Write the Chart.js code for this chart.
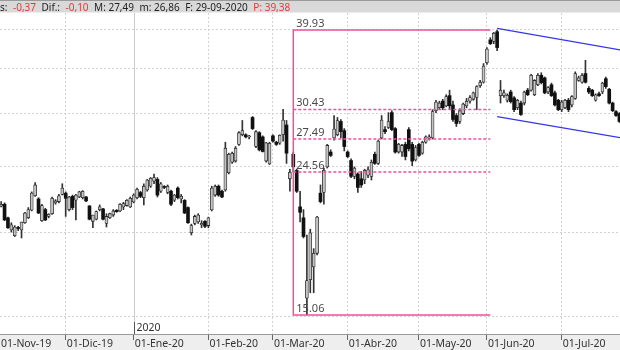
<!DOCTYPE html>
<html>
<head>
<meta charset="utf-8">
<script src="https://cdn.jsdelivr.net/npm/chart.js@4"></script>
<style>
  html, body { margin: 0; padding: 0; background: #fff; }
  #wrap { width: 620px; height: 350px; }
</style>
</head>
<body>
<div id="wrap"><canvas id="chart-price" width="620" height="350"></canvas></div>
<script>
// month tick labels (one per month array below)
const monthLabels = ['01-Nov-19', '01-Dic-19', '01-Ene-20', '01-Feb-20', '01-Mar-20',
    '01-Abr-20', '01-May-20', '01-Jun-20', '01-Jul-20'];

// daily candles [open, high, low, close]
const nov19 = [
    [22.3, 22.4, 21.9, 22.0], [22.1, 22.3, 21.9, 22.2], [21.85, 22.2, 21.8, 22.0],
    [22.0, 22.1, 20.8, 20.85], [21.0, 21.05, 20.25, 20.3], [20.15, 20.65, 20.0, 20.5],
    [19.75, 20.45, 19.7, 20.35], [20.3, 20.4, 20.1, 20.25], [20.15, 20.7, 19.6, 20.7],
    [20.65, 21.4, 20.6, 21.35], [21.0, 21.75, 20.95, 21.6], [21.55, 22.95, 21.5, 22.85],
    [22.65, 23.7, 22.6, 23.5], [22.4, 22.5, 21.3, 21.35], [20.8, 22.0, 20.75, 21.9],
    [21.6, 21.7, 20.8, 20.85], [21.1, 21.3, 21.0, 21.25], [21.3, 22.55, 21.25, 22.45],
    [22.1, 22.35, 22.0, 22.25], [22.2, 22.75, 22.1, 22.65], [22.75, 23.6, 22.7, 23.25],
];
const dec19 = [
    [22.85, 22.95, 21.1, 22.45], [21.6, 22.6, 21.5, 22.55], [22.6, 22.7, 21.6, 21.75],
    [22.3, 22.75, 20.85, 22.7], [22.55, 23.0, 22.5, 22.95], [22.5, 23.05, 22.4, 23.0],
    [22.55, 22.6, 22.2, 22.25], [21.87, 21.9, 20.85, 20.9], [20.75, 21.2, 20.3, 21.2],
    [20.9, 21.5, 20.85, 21.45], [21.6, 21.95, 21.5, 21.8], [21.65, 21.7, 20.85, 20.9],
    [20.6, 21.3, 20.35, 21.1], [21.0, 21.35, 20.95, 21.3], [21.2, 21.6, 21.1, 21.5],
    [21.55, 21.6, 21.4, 21.45], [21.5, 22.05, 21.45, 22.0], [21.8, 22.15, 21.6, 22.05],
    [21.9, 22.35, 21.85, 22.3], [21.8, 22.55, 21.75, 22.45],
];
const jan20 = [
    [22.17, 22.8, 22.1, 22.7], [22.5, 23.25, 22.4, 23.15], [22.9, 23.0, 22.5, 22.6],
    [22.5, 23.6, 21.95, 23.4], [23.1, 23.95, 23.0, 23.9], [23.4, 24.1, 23.3, 24.05],
    [23.8, 24.4, 23.6, 24.1], [23.95, 24.1, 22.55, 22.7], [23.0, 23.7, 22.9, 23.6],
    [23.35, 23.45, 23.2, 23.3], [22.9, 23.5, 22.8, 23.4], [23.0, 23.1, 21.9, 22.0],
    [22.3, 22.75, 22.2, 22.7], [23.25, 23.35, 22.4, 22.5], [22.4, 22.75, 22.1, 22.6],
    [22.3, 22.35, 21.3, 21.35], [21.75, 21.8, 20.6, 20.65], [19.95, 20.55, 19.8, 20.45],
    [20.6, 21.2, 20.5, 21.1], [20.7, 21.3, 20.6, 21.2], [20.5, 20.8, 20.3, 20.6],
    [20.75, 20.8, 20.3, 20.4],
];
const feb20 = [
    [20.45, 21.05, 20.3, 21.0], [21.57, 23.4, 21.5, 23.25], [22.7, 23.5, 22.6, 23.4],
    [23.4, 23.5, 22.6, 22.7], [23.0, 23.1, 22.5, 22.55], [23.1, 27.2, 23.0, 26.65],
    [24.5, 26.2, 24.4, 26.1], [25.4, 26.3, 25.3, 26.2], [25.5, 26.8, 25.4, 26.65],
    [27.0, 28.2, 26.9, 28.1], [27.9, 29.3, 27.8, 28.3], [27.9, 28.0, 27.6, 27.7],
    [27.7, 27.85, 27.5, 27.75], [29.6, 29.7, 28.4, 28.5], [26.8, 28.3, 26.7, 28.2],
    [28.1, 28.2, 26.4, 26.5], [27.7, 27.8, 26.3, 26.35], [25.5, 27.2, 25.4, 27.15],
    [25.25, 27.2, 25.2, 27.1],
];
const mar20 = [
    [27.8, 27.9, 27.2, 27.3], [27.2, 27.3, 26.9, 27.0], [27.1, 27.9, 27.0, 27.85],
    [27.9, 30.45, 27.3, 29.35], [28.85, 29.3, 25.3, 26.2], [24.0, 24.8, 23.0, 24.55],
    [26.1, 26.3, 24.6, 25.0], [24.7, 24.8, 22.9, 23.0], [21.8, 23.0, 20.7, 21.4],
    [21.0, 21.6, 19.6, 19.7], [15.95, 19.8, 15.06, 16.95], [17.0, 20.2, 16.25, 19.95],
    [17.75, 18.9, 16.25, 18.6], [18.6, 21.1, 18.5, 21.05], [22.85, 23.5, 22.1, 22.2],
    [22.9, 24.9, 22.0, 24.7], [25.0, 27.0, 24.9, 26.9], [26.3, 26.5, 25.9, 26.0],
    [27.6, 29.8, 27.4, 28.45], [27.9, 29.6, 27.8, 29.3], [29.2, 29.4, 27.6, 28.2],
    [28.3, 28.5, 26.4, 26.8],
];
const apr20 = [
    [26.3, 26.4, 25.8, 25.9], [25.55, 25.7, 24.1, 24.2], [24.2, 25.0, 24.0, 24.9],
    [24.4, 24.5, 22.9, 23.3], [24.0, 24.6, 23.3, 23.5], [23.9, 24.8, 23.6, 24.7],
    [24.3, 25.0, 24.1, 24.75], [24.2, 25.6, 23.9, 25.4], [26.1, 26.3, 25.2, 25.3],
    [25.3, 27.4, 25.2, 27.3], [27.6, 29.8, 27.5, 29.35], [28.4, 28.7, 28.0, 28.2],
    [28.6, 30.1, 28.5, 29.2], [30.1, 30.3, 28.3, 28.4], [28.5, 28.6, 26.2, 26.3],
    [26.3, 27.1, 26.2, 27.0], [26.3, 27.0, 25.9, 26.9], [27.0, 27.2, 25.6, 25.9],
    [28.4, 28.6, 26.4, 26.6], [27.0, 27.2, 25.1, 25.5], [25.6, 26.9, 25.5, 26.7],
];
const may20 = [
    [27.0, 27.1, 25.9, 26.0], [26.2, 27.3, 26.1, 27.2], [27.2, 27.8, 27.1, 27.7],
    [27.6, 27.9, 27.4, 27.7], [27.6, 30.4, 27.5, 30.2], [30.3, 31.4, 30.1, 31.2],
    [30.6, 31.3, 30.4, 31.1], [31.3, 31.5, 30.4, 30.6], [30.8, 32.0, 30.7, 31.8],
    [31.9, 32.5, 30.5, 30.8], [30.9, 31.3, 29.2, 29.4], [29.8, 30.0, 28.7, 29.0],
    [29.2, 30.5, 29.0, 30.3], [30.0, 31.1, 29.9, 31.0], [30.8, 31.6, 30.6, 31.3],
    [31.3, 31.9, 31.1, 31.7], [31.5, 32.3, 31.4, 32.2], [31.7, 33.0, 30.4, 32.9],
    [33.0, 33.6, 32.8, 33.4], [33.4, 35.6, 33.3, 35.3],
];
const jun20 = [
    [35.7, 37.6, 35.5, 37.4], [38.6, 38.9, 38.0, 38.1], [38.4, 39.6, 38.1, 39.5],
    [39.7, 39.93, 37.2, 37.6], [31.9, 33.6, 31.1, 32.5], [31.9, 32.5, 31.7, 32.2],
    [31.4, 32.1, 31.2, 31.95], [32.3, 32.5, 31.1, 31.25], [31.65, 31.8, 30.2, 30.4],
    [30.6, 31.5, 30.4, 31.4], [31.1, 31.3, 29.8, 29.9], [31.1, 32.4, 30.9, 32.3],
    [32.5, 32.7, 31.9, 32.0], [32.5, 34.3, 32.4, 34.2], [32.0, 33.7, 31.9, 33.6],
    [33.1, 34.4, 33.0, 34.2], [34.2, 34.5, 33.2, 33.35], [33.9, 34.0, 32.1, 32.2],
    [32.3, 32.9, 32.1, 32.8], [33.1, 33.3, 31.8, 31.9], [32.2, 32.4, 30.8, 30.9],
    [31.4, 31.5, 30.3, 30.4],
];
const jul20 = [
    [30.4, 31.4, 30.2, 31.2], [30.6, 31.5, 30.5, 31.4], [31.4, 31.6, 30.2, 30.4],
    [30.9, 31.9, 30.7, 31.8], [31.6, 34.6, 31.5, 34.4], [33.6, 34.1, 33.5, 33.9],
    [33.4, 34.4, 33.3, 34.2], [34.4, 36.0, 33.3, 33.4], [32.7, 32.9, 32.1, 32.3],
    [32.5, 32.6, 31.8, 31.9], [31.4, 32.1, 31.3, 32.0], [32.1, 32.3, 31.8, 31.9],
    [32.3, 33.4, 32.1, 33.3], [33.8, 34.0, 32.7, 32.9], [32.6, 32.7, 31.0, 31.1],
    [31.1, 31.2, 30.2, 30.3], [30.2, 30.3, 29.7, 29.8], [30.0, 30.1, 29.1, 29.2],
];

// fibonacci retracement (prices) and the candle span it covers
const fibHigh = 39.93;
const fibLow = 15.06;
const fibLevels = [30.43, 27.49, 24.56];
const fibSpan = [88, 146];

// downward channel [candle index, price]
const channelUpper = [[148, 40.16], [186, 37.16]];
const channelLower = [[148, 29.68], [186, 27.53]];

const priceGrid = [15, 20, 25, 30, 35, 40];

// status line on top: text, red?
const headerParts = [
    ['s:', false], ['-0,37', true], ['Dif.:', false], ['-0,10', true],
    ['M: 27,49', false], ['m: 26,86', false], ['F: 29-09-2020', false],
    ['P: 39,38', true],
];

const months = [nov19, dec19, jan20, feb20, mar20, apr20, may20, jun20, jul20];
const candles = [].concat(...months);
const monthStart = [];
let count = 0;
months.forEach(m => { monthStart.push(count); count += m.length; });

const xMin = 1.66;
const xMax = 184.17;
const yMin = 14.113;
const yMax = 42.32;

const isUp = candles.map(c => c[3] >= c[0]);
const bodies = candles.map((c, i) => ({x: i, y: [c[0], c[3]]}));
const wicks = candles.map((c, i) => ({x: i, y: [c[2], c[1]]}));

const FONT = '"Noto Sans", "Open Sans", sans-serif';
const PINK = '#f0509a';
const BLUE = '#3535f0';

const frame = {
    id: 'frame',
    beforeDraw(chart) {
        const ctx = chart.ctx;
        const area = chart.chartArea;
        ctx.save();
        ctx.fillStyle = '#fff';
        ctx.fillRect(0, 0, chart.width, chart.height);
        // header band
        ctx.fillStyle = '#d9d9d9';
        ctx.fillRect(0, 0, chart.width, 12.5);
        ctx.fillStyle = '#9a9a9a';
        ctx.fillRect(0, 0, chart.width, 1);
        ctx.font = '10px ' + FONT;
        ctx.textBaseline = 'alphabetic';
        let hx = 0;
        headerParts.forEach(p => {
            ctx.fillStyle = p[1] ? '#e5393b' : '#222';
            ctx.fillText(p[0], hx, 10.5);
            hx += ctx.measureText(p[0]).width + 5.5;
        });
        // axis band
        ctx.fillStyle = '#eeeeee';
        ctx.fillRect(0, area.bottom, chart.width, chart.height - area.bottom);
        ctx.restore();
    },
    beforeDatasetsDraw(chart) {
        const ctx = chart.ctx;
        const area = chart.chartArea;
        const xs = chart.scales.x;
        const x = Math.round(xs.getPixelForValue(monthStart[2])) + 0.5;
        ctx.save();
        ctx.strokeStyle = '#cccccc';
        ctx.lineWidth = 1;
        ctx.beginPath();
        ctx.moveTo(x, area.top);
        ctx.lineTo(x, area.bottom - 12);
        ctx.stroke();
        ctx.strokeStyle = '#555';
        ctx.beginPath();
        ctx.moveTo(x, area.bottom - 12);
        ctx.lineTo(x, area.bottom);
        ctx.stroke();
        ctx.fillStyle = '#333';
        ctx.font = '10.5px ' + FONT;
        ctx.fillText('2020', x + 2, area.bottom - 3);
        ctx.restore();
    },
    afterDatasetsDraw(chart) {
        const ctx = chart.ctx;
        const area = chart.chartArea;
        const xs = chart.scales.x;
        const ys = chart.scales.y;
        ctx.save();
        ctx.beginPath();
        ctx.rect(area.left, area.top, area.width, area.height);
        ctx.clip();

        const x1 = xs.getPixelForValue(fibSpan[0]);
        const x2 = xs.getPixelForValue(fibSpan[1]);
        const yHi = ys.getPixelForValue(fibHigh);
        const yLo = ys.getPixelForValue(fibLow);
        ctx.strokeStyle = PINK;
        ctx.lineWidth = 1.5;
        ctx.beginPath();
        ctx.moveTo(x2, yHi);
        ctx.lineTo(x1, yHi);
        ctx.lineTo(x1, yLo);
        ctx.lineTo(x2, yLo);
        ctx.stroke();
        ctx.setLineDash([3, 2]);
        fibLevels.forEach(v => {
            const y = ys.getPixelForValue(v);
            ctx.beginPath();
            ctx.moveTo(x1, y);
            ctx.lineTo(x2, y);
            ctx.stroke();
        });
        ctx.setLineDash([]);
        ctx.fillStyle = '#4a4a4a';
        ctx.font = '11px ' + FONT;
        [fibHigh, ...fibLevels, fibLow].forEach(v => {
            ctx.fillText(v.toFixed(2), x1 + 3, ys.getPixelForValue(v) - 3);
        });

        ctx.strokeStyle = BLUE;
        ctx.lineWidth = 1.3;
        [channelUpper, channelLower].forEach(line => {
            ctx.beginPath();
            ctx.moveTo(xs.getPixelForValue(line[0][0]), ys.getPixelForValue(line[0][1]));
            ctx.lineTo(xs.getPixelForValue(line[1][0]), ys.getPixelForValue(line[1][1]));
            ctx.stroke();
        });
        ctx.restore();
    }
};

const data = {
    datasets: [{
        label: 'body',
        data: bodies,
        barThickness: 3,
        minBarLength: 1,
        grouped: false,
        borderSkipped: false,
        backgroundColor: ctx => isUp[ctx.dataIndex] ? '#c4c4c4' : '#111',
        borderColor: '#2a2a2a',
        borderWidth: ctx => isUp[ctx.dataIndex] ? 0.8 : 0,
        order: 0
    }, {
        label: 'wick',
        data: wicks,
        barThickness: 1,
        grouped: false,
        backgroundColor: '#333',
        borderWidth: 0,
        order: 1
    }]
};

const config = {
    type: 'bar',
    data: data,
    plugins: [frame],
    options: {
        responsive: false,
        animation: false,
        devicePixelRatio: 1,
        layout: {padding: {top: 13, left: 0, right: 0, bottom: 0}},
        plugins: {legend: {display: false}, tooltip: {enabled: false}},
        scales: {
            x: {
                type: 'linear',
                min: xMin,
                max: xMax,
                offset: false,
                afterBuildTicks: s => { s.ticks = monthStart.map(v => ({value: Math.max(v, xMin)})); },
                afterFit: s => { s.height = 16; },
                ticks: {
                    autoSkip: false,
                    maxRotation: 0,
                    align: 'start',
                    labelOffset: 1,
                    padding: -2,
                    color: '#333',
                    font: {family: FONT, size: 10.5},
                    callback: (v, i) => monthLabels[i]
                },
                grid: {
                    offset: false,
                    tickLength: 6,
                    color: ctx => (ctx.index === 0 || ctx.index === 2) ? 'rgba(0,0,0,0)' : '#d2d2d2',
                    tickColor: ctx => ctx.index === 0 ? 'rgba(0,0,0,0)' : '#666'
                },
                border: {color: '#999', dash: [2, 2]}
            },
            y: {
                type: 'logarithmic',
                position: 'right',
                min: yMin,
                max: yMax,
                afterBuildTicks: s => { s.ticks = priceGrid.map(v => ({value: v})); },
                ticks: {display: false},
                grid: {color: '#d2d2d2', drawTicks: false},
                border: {display: false, dash: [2, 2]}
            }
        }
    }
};

const priceChart = new Chart(document.getElementById('chart-price'), config);
</script>
</body>
</html>
